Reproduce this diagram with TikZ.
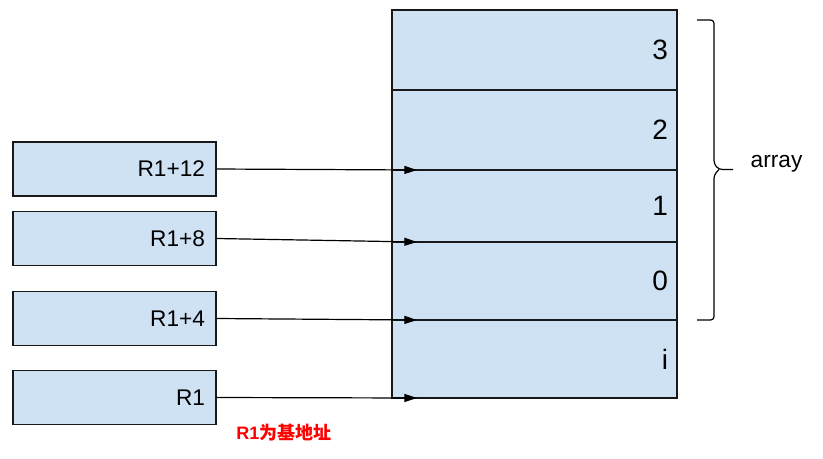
\documentclass[tikz,border=0pt]{standalone}
\usepackage{fontspec}
\setmainfont{Liberation Sans}
\newfontfamily\cjk{Noto Sans CJK SC}
\usetikzlibrary{arrows.meta,positioning}
\definecolor{cellblue}{HTML}{CFE2F3}
\tikzset{
    cellbox/.style={draw=black!90, fill=cellblue, line width=0.9pt, outer sep=0pt, minimum width=213.75pt,
        text width=200.25pt, inner xsep=6.75pt, align=right, font=\fontsize{21}{24}\selectfont},
    regbox/.style={draw=black!90, fill=cellblue, line width=0.9pt, minimum width=152.25pt,
        minimum height=40.5pt, text width=135.75pt, inner xsep=8.25pt, align=right,
        font=\fontsize{17}{20}\selectfont},
    ptr/.style={line width=0.9pt, -{Triangle[length=9.5pt,width=6pt]}},
    bracket/.style={line width=0.9pt, rounded corners=2.5pt}
}

\begin{document}
\begin{tikzpicture}[x=0.75pt, y=-0.75pt]
            \useasboundingbox (0,0) rectangle (823,458);
            \node[cellbox, minimum height=60pt] (c3) at (534.5,50) {3};
            \node[cellbox, minimum height=60pt, below=0pt of c3] (c2) {2};
            \node[cellbox, minimum height=54pt, below=0pt of c2] (c1) {1};
            \node[cellbox, minimum height=58.5pt, below=0pt of c1] (c0) {0};
            \node[cellbox, minimum height=58.5pt, below=0pt of c0] (ci) {i};

            \node[regbox] (r12) at (114.5,169) {R1+12};
            \node[regbox] (r8) at (114.5,238.5) {R1+8};
            \node[regbox] (r4) at (114.5,318.5) {R1+4};
            \node[regbox] (r1) at (114.5,397.5) {R1};

            \draw[ptr] (r12.east) -- ([xshift=18.75pt]c2.south west);
            \draw[ptr] (r8.east) -- ([xshift=18.75pt]c1.south west);
            \draw[ptr] (r4.east) -- ([xshift=18.75pt]c0.south west);
            \draw[ptr] (r1.east) -- ([xshift=18.75pt]ci.south west);

            \coordinate (btop) at (697,20);
            \coordinate (bbot) at (697,320);
            \coordinate (btip) at (733,169.5);
            \draw[bracket] (btop) -- ++(17,0) -- (714,164) -- (719,169.5) -- (btip);
            \draw[bracket] (bbot) -- ++(17,0) -- (714,175) -- (719,169.5);
            \node[anchor=west, font=\fontsize{17}{20}\selectfont] (arr) at (746,164) {array};

            \node[text=red, font=\fontsize{13.5}{16}\selectfont\bfseries] (base) at (284,433) {R1{\cjk\bfseries 为基地址}};
        \end{tikzpicture}
\end{document}
